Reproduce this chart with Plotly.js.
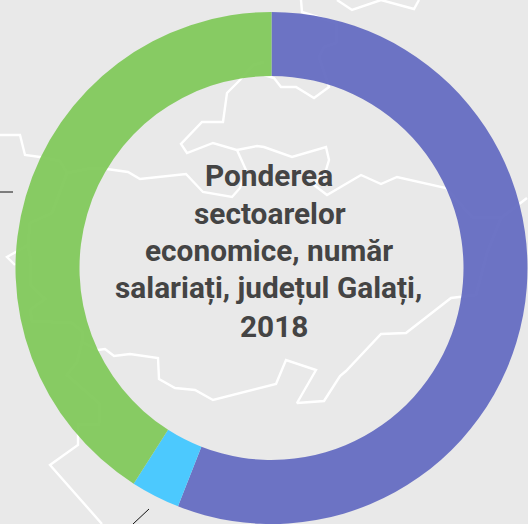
<!DOCTYPE html>
<html><head><meta charset="utf-8">
<script src="https://cdn.plot.ly/plotly-3.0.1.min.js"></script>
<style>html,body{margin:0;padding:0;background:#e9e9e9;overflow:hidden}#c{width:528px;height:524px}</style>
</head><body><div id="c"></div>
<script>
const sectors = ["Servicii", "Agricultură", "Industrie"];
const shares = [55.95, 3.1, 40.95];
const sectorColors = ["rgba(101,109,194,0.95)", "rgba(67,199,255,0.95)", "rgba(130,201,92,0.95)"];
const titleLines = ["Ponderea", "sectoarelor", "economice, număr", "salariați, județul Galați,", "2018"];
const titleLineX = [268.5, 270, 268.5, 268.5, 273.5];
const titleLineY = [175, 213, 250, 288, 326];

// Background map: county borders, as [x, y] pairs on a 528x524 axis
const border1 = [[0,135],[20,135],[25,155],[40,157],[60,161],[67,173],[92,168],[107,169],[128,172],[140,179],[186,174],[203,192],[232,197],[240,188],[246,170],[237,150],[213,143],[187,153],[181,144],[202,122],[223,122],[227,93],[240,80],[253,65],[264,62]];
const border2 = [[237,150],[257,146],[264,147],[292,157],[326,147],[329,160],[326,170],[314,185],[327,195],[361,175],[381,184],[397,177],[446,188],[472,217],[501,218],[527,198]];
const border3 = [[501,218],[487,253],[476,295],[451,298],[406,333],[381,334],[346,371],[340,376],[324,401],[297,403],[316,370],[286,360],[276,384],[240,393],[213,400],[195,390],[175,388],[159,379],[158,358],[130,354],[114,356],[105,349],[98,350],[82,342],[77,362],[67,375],[100,404],[99,424],[78,425],[78,445],[50,465],[102,524]];
const border4 = [[67,173],[52,213],[30,223],[28,245],[7,257],[15,265]];
const border5 = [[28,245],[31,262],[30,285],[45,299],[30,310],[32,321],[72,323],[83,332],[82,342]];
const border6 = [[264,75],[274,78],[281,87],[296,87],[314,98],[329,87],[319,57],[324,47],[336,43],[337,23],[302,12],[301,0]];
const border7 = [[337,0],[352,10],[381,0],[414,9],[419,0]];
const borders = [border1, border2, border3, border4, border5, border6, border7];
const tick1 = [[0,192],[13,192]];
const tick2 = [[149,509],[133,524]];
const ticks = [tick1, tick2];

const lineTrace = (pts, color, width) => ({
  type: "scatter", mode: "lines", hoverinfo: "skip", showlegend: false,
  x: pts.map(p => p[0]), y: pts.map(p => p[1]),
  line: {color: color, width: width, shape: "linear"}
});

const data = [
  ...borders.map(b => lineTrace(b, "#ffffff", 2.4)),
  ...ticks.map(t => lineTrace(t, "#111111", 1)),
  {
    type: "pie", labels: sectors, values: shares, sort: false, direction: "clockwise", rotation: 0,
    hole: 0.75, textinfo: "none", hoverinfo: "label+percent", showlegend: false,
    marker: {colors: sectorColors, line: {width: 0}},
    domain: {x: [15.5/528, 527.5/528], y: [0, 512/524]}
  }
];

const layout = {
  width: 528, height: 524, margin: {l:0, r:0, t:0, b:0},
  paper_bgcolor: "#e9e9e9", plot_bgcolor: "#e9e9e9", showlegend: false,
  xaxis: {range: [0,528], visible: false, fixedrange: true},
  yaxis: {range: [524,0], visible: false, fixedrange: true},
  annotations: titleLines.map((t, i) => ({
    text: t, x: titleLineX[i], y: titleLineY[i], xref: "x", yref: "y", showarrow: false,
    xanchor: "center", yanchor: "middle",
    font: {family: "Roboto, sans-serif", size: 29.8, color: "#444444", weight: 700}
  }))
};
Plotly.newPlot("c", data, layout, {displayModeBar: false, staticPlot: true});
</script></body></html>
